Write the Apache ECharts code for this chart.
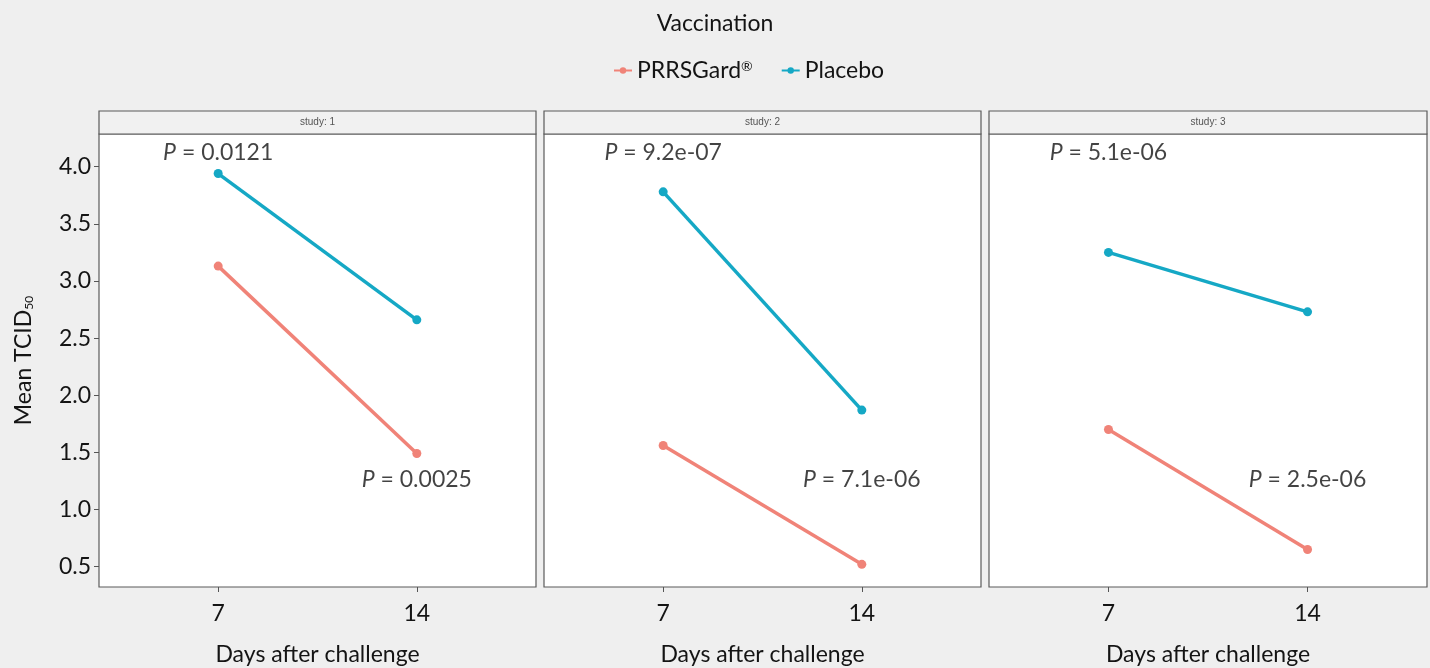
<!DOCTYPE html>
<html>
<head>
<meta charset="utf-8">
<script src="https://cdn.jsdelivr.net/npm/echarts@6/dist/echarts.min.js"></script>
<style>
html,body{margin:0;padding:0;background:#efefef;}
#chart{width:1430px;height:668px;}
</style>
</head>
<body>
<div id="chart"></div>
<script>
// ---- data ----
const days = [7, 14];
const studies = ['study: 1', 'study: 2', 'study: 3'];
const seriesNames = ['PRRSGard®', 'Placebo'];
const prrsgard = [[3.13, 1.49], [1.56, 0.52], [1.70, 0.65]];
const placebo = [[3.94, 2.66], [3.78, 1.87], [3.25, 2.73]];
const pTop = ['0.0121', '9.2e-07', '5.1e-06'];
const pBottom = ['0.0025', '7.1e-06', '2.5e-06'];
const pTopAt = [7, 4.12];
const pBottomAt = [14, 1.26];
const yTicks = [0.5, 1.0, 1.5, 2.0, 2.5, 3.0, 3.5, 4.0];

// ---- layout / style ----
const FONT = 'Lato';
const FS = 23;
const TXT = '#141414';
const colors = {'PRRSGard®': '#F08378', 'Placebo': '#15A8C5'};
const panels = [
  {left: 99, right: 1430 - 536},
  {left: 544, right: 1430 - 981},
  {left: 989, right: 1430 - 1427}
];
const gridTop = 134, gridBottom = 668 - 587, stripTop = 111;

const grids = [], xAxes = [], yAxes = [], series = [], graphics = [];
panels.forEach((p, i) => {
  grids.push({left: p.left, right: p.right, top: gridTop, bottom: gridBottom,
    outerBoundsMode: 'none', containLabel: false,
    show: true, backgroundColor: '#ffffff', borderColor: '#5a5a5a', borderWidth: 1.2});
  xAxes.push({type: 'value', gridIndex: i, min: 2.8, max: 18.2,
    name: 'Days after challenge', nameLocation: 'middle', nameGap: 56,
    nameTextStyle: {fontFamily: FONT, fontSize: FS, color: TXT},
    axisLine: {show: false}, splitLine: {show: false},
    axisTick: {show: true, length: 5, lineStyle: {color: '#555'}, customValues: days},
    axisLabel: {fontFamily: FONT, fontSize: FS, color: TXT, margin: 15, customValues: days,
      formatter: v => String(v)}
  });
  yAxes.push({type: 'value', gridIndex: i, min: 0.322, max: 4.286,
    name: i === 0 ? 'Mean TCID{sub|50}' : '', nameLocation: 'middle', nameGap: 64,
    nameTextStyle: {fontFamily: FONT, fontSize: FS, color: TXT,
      rich: {sub: {fontFamily: FONT, fontSize: 12, color: TXT, verticalAlign: 'bottom', padding: [9, 0, 0, 0]}}},
    axisLine: {show: false}, splitLine: {show: false},
    axisTick: {show: i === 0, length: 5, lineStyle: {color: '#555'}, customValues: yTicks},
    axisLabel: {show: i === 0, fontFamily: FONT, fontSize: FS, color: TXT, margin: 8,
      customValues: yTicks, formatter: v => v.toFixed(1)}
  });
  [[seriesNames[0], prrsgard[i]], [seriesNames[1], placebo[i]]].forEach(([name, vals]) => {
    series.push({type: 'line', name: name, xAxisIndex: i, yAxisIndex: i,
      data: days.map((d, k) => [d, vals[k]]),
      symbol: 'circle', symbolSize: 9,
      lineStyle: {width: 3.5, color: colors[name]},
      itemStyle: {color: colors[name]},
      emphasis: {disabled: true}, animation: false, z: 3});
  });
  series.push({type: 'scatter', name: 'pvals' + i, xAxisIndex: i, yAxisIndex: i,
    symbolSize: 0, silent: true, animation: false,
    data: [
      {value: pTopAt, label: {formatter: '{i|P} = ' + pTop[i]}},
      {value: pBottomAt, label: {formatter: '{i|P} = ' + pBottom[i]}}
    ],
    label: {show: true, position: 'inside', fontFamily: FONT, fontSize: FS, color: TXT,
      rich: {i: {fontFamily: FONT, fontSize: FS, fontStyle: 'italic', color: TXT}}}
  });
  const w = 1430 - p.left - p.right;
  graphics.push({type: 'rect', shape: {x: p.left, y: stripTop, width: w, height: gridTop - stripTop},
    style: {fill: '#f1f1f1', stroke: '#5a5a5a', lineWidth: 1.2}, z: 10});
  graphics.push({type: 'text', x: p.left + w / 2, y: stripTop + (gridTop - stripTop) / 2,
    style: {text: studies[i], fill: '#555', font: '10px Arial', align: 'center', verticalAlign: 'middle'}, z: 11});
});

const chart = echarts.init(document.getElementById('chart'), null, {renderer: 'canvas'});
chart.setOption({
  backgroundColor: '#efefef',
  animation: false,
  title: {text: 'Vaccination', left: 'center', top: 7,
    textStyle: {fontFamily: FONT, fontSize: FS, fontWeight: 'normal', color: TXT}},
  legend: {data: seriesNames, top: 54, left: 608, itemWidth: 18, itemHeight: 8, itemGap: 28,
    selectedMode: false,
    textStyle: {fontFamily: FONT, fontSize: FS, color: TXT,
      rich: {sup: {fontFamily: FONT, fontSize: 14, color: TXT, verticalAlign: 'top', padding: [0, 0, 9, 0]}}},
    formatter: n => n === 'PRRSGard®' ? 'PRRSGard{sup|®}' : n},
  grid: grids, xAxis: xAxes, yAxis: yAxes, series: series, graphic: graphics
});
</script>
</body>
</html>
